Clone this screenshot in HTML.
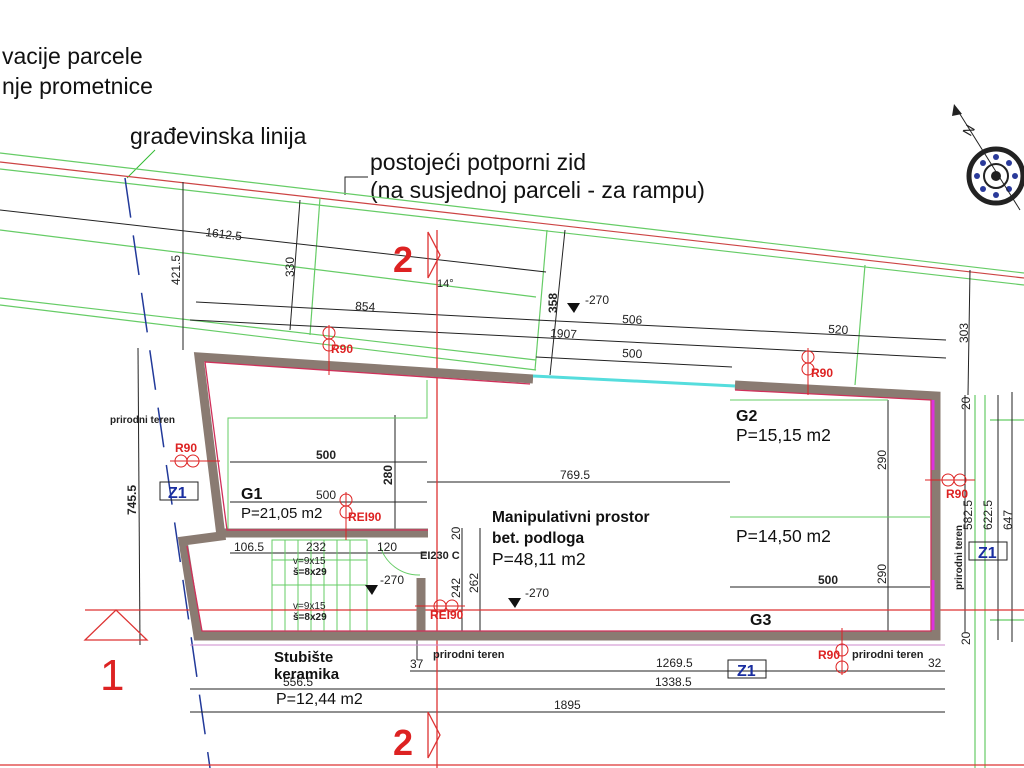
<!DOCTYPE html>
<html><head><meta charset="utf-8"><style>
html,body{margin:0;padding:0;background:#fff;width:1024px;height:768px;overflow:hidden}
svg text{font-family:"Liberation Sans",sans-serif}
</style></head><body>
<svg width="1024" height="768" viewBox="0 0 1024 768" xmlns="http://www.w3.org/2000/svg">
<rect width="1024" height="768" fill="#fff"/>
<!-- top texts -->
<text x="2" y="64" font-size="23" fill="#111">vacije parcele</text>
<text x="2" y="94" font-size="23" fill="#111">nje prometnice</text>
<text x="130" y="144" font-size="23" fill="#111">građevinska linija</text>
<text x="370" y="170" font-size="23" fill="#111">postojeći potporni zid</text>
<text x="370" y="198" font-size="23" fill="#111">(na susjednoj parceli - za rampu)</text>
<polyline points="345,195 345,177 368,177" fill="none" stroke="#222" stroke-width="1"/>
<line x1="155" y1="150" x2="127" y2="178" stroke="#3b3" stroke-width="1"/>

<!-- diagonal lines -->
<g fill="none" stroke-width="1.2">
<line x1="0" y1="153" x2="1024" y2="273" stroke="#6c6"/>
<line x1="0" y1="162" x2="1024" y2="278" stroke="#c44"/>
<line x1="0" y1="169" x2="1024" y2="285" stroke="#6c6"/>
<line x1="0" y1="230" x2="536" y2="297" stroke="#6c6"/>
<line x1="0" y1="298" x2="536" y2="360" stroke="#6c6"/>
<line x1="0" y1="305" x2="536" y2="370" stroke="#6c6"/>
<line x1="320" y1="198" x2="310" y2="335" stroke="#6c6"/>
<line x1="547" y1="230" x2="535" y2="370" stroke="#6c6"/>
<line x1="865" y1="265" x2="855" y2="385" stroke="#6c6"/>
<line x1="975" y1="395" x2="975" y2="768" stroke="#6c6"/>
<line x1="985" y1="395" x2="985" y2="768" stroke="#6c6"/>
<line x1="990" y1="420" x2="1024" y2="420" stroke="#6c6"/>
<line x1="990" y1="620" x2="1024" y2="620" stroke="#6c6"/>
</g>
<!-- blue dashed -->
<g stroke="#223a9a" stroke-width="1.5" stroke-dasharray="40,18">
<line x1="125" y1="178" x2="210" y2="768"/>
</g>
<!-- dimension lines -->
<g stroke="#222" stroke-width="1" fill="none">
<line x1="0" y1="210" x2="546" y2="272"/>
<line x1="196" y1="302" x2="536" y2="320"/>
<line x1="190" y1="320" x2="946" y2="358"/>
<line x1="536" y1="320" x2="946" y2="340"/>
<line x1="536" y1="357" x2="732" y2="367"/>
<line x1="183" y1="182" x2="183" y2="350"/>
<line x1="300" y1="200" x2="290" y2="330"/>
<line x1="565" y1="230" x2="550" y2="375"/>
<line x1="970" y1="270" x2="968" y2="395"/>
<line x1="138" y1="348" x2="140" y2="645"/>
<line x1="230" y1="462" x2="427" y2="462"/>
<line x1="230" y1="502" x2="427" y2="502"/>
<line x1="427" y1="482" x2="730" y2="482"/>
<line x1="395" y1="415" x2="395" y2="530"/>
<line x1="230" y1="553" x2="427" y2="553"/>
<line x1="462" y1="528" x2="462" y2="632"/>
<line x1="480" y1="528" x2="480" y2="632"/>
<line x1="730" y1="587" x2="930" y2="587"/>
<line x1="888" y1="400" x2="888" y2="632"/>
<line x1="410" y1="671" x2="945" y2="671"/>
<line x1="190" y1="689" x2="945" y2="689"/>
<line x1="190" y1="712" x2="945" y2="712"/>
<line x1="965" y1="395" x2="965" y2="632"/>
<line x1="998" y1="395" x2="998" y2="640"/>
<line x1="1012" y1="392" x2="1012" y2="642"/>
<line x1="417" y1="580" x2="417" y2="660"/>
</g>
<!-- green interior -->
<g stroke="#6c6" stroke-width="1" fill="none">
<polyline points="228,530 228,418 427,418 427,380"/>
<line x1="730" y1="400" x2="888" y2="400"/>
<line x1="730" y1="517" x2="930" y2="517"/>
<rect x="272" y="540" width="95" height="92"/>
<line x1="272" y1="560" x2="367" y2="560"/>
<line x1="272" y1="585" x2="367" y2="585"/>
<line x1="285" y1="540" x2="285" y2="632"/><line x1="298" y1="540" x2="298" y2="632"/><line x1="311" y1="540" x2="311" y2="632"/><line x1="324" y1="540" x2="324" y2="632"/><line x1="337" y1="540" x2="337" y2="632"/><line x1="350" y1="540" x2="350" y2="632"/>
<path d="M380 545 A40 40 0 0 0 420 575"/>
</g>
<!-- red lines -->
<g stroke="#d33" stroke-width="1.3" fill="none">
<line x1="85" y1="610" x2="1024" y2="610"/>
<line x1="437" y1="230" x2="437" y2="768"/>
<line x1="0" y1="765" x2="1024" y2="765"/>
<polygon points="85,640 116,610 147,640"/>
<polygon points="428,232 440,255 428,278"/>
<polygon points="428,712 440,735 428,758"/>
</g>
<!-- walls -->
<g fill="none" stroke="#8a7b72" stroke-width="9" stroke-linejoin="miter">
<polyline points="533,379 199,357 221,536 183,541 198,636 936,636 936,470"/>
<polyline points="936,580 936,396 735,385"/>
<line x1="221" y1="533" x2="428" y2="533"/>
<line x1="421" y1="578" x2="421" y2="636"/>
</g>
<g fill="none" stroke="#d0305a" stroke-width="1.3">
<polyline points="530,384 205,362 227,530 428,530"/>
<polyline points="187,546 202,631 931,631 931,400 735,390"/>
</g>
<line x1="533" y1="376" x2="735" y2="386" stroke="#5dd" stroke-width="3"/>
<line x1="933" y1="400" x2="933" y2="470" stroke="#d3d" stroke-width="3"/>
<line x1="933" y1="580" x2="933" y2="630" stroke="#d3d" stroke-width="3"/>
<line x1="190" y1="645" x2="945" y2="645" stroke="#c8c" stroke-width="1"/>

<!-- labels -->
<g fill="#222" font-size="12">
<text x="205" y="236" transform="rotate(7 205 236)">1612.5</text>
<text x="355" y="310" transform="rotate(3 355 310)">854</text>
<text x="550" y="337" transform="rotate(3 550 337)">1907</text>
<text x="622" y="323" transform="rotate(3 622 323)">506</text>
<text x="828" y="333" transform="rotate(3 828 333)">520</text>
<text x="622" y="357" transform="rotate(3 622 357)">500</text>
<text x="437" y="287" font-size="11">14°</text>
<text x="585" y="304">-270</text>
<text transform="translate(180 285) rotate(-90)">421.5</text>
<text transform="translate(294 277) rotate(-90)">330</text>
<text transform="translate(557 313) rotate(-90)" font-weight="bold">358</text>
<text transform="translate(968 343) rotate(-90)">303</text>
<text transform="translate(136 515) rotate(-90)" font-weight="bold">745.5</text>
<text x="316" y="459" font-weight="bold">500</text>
<text x="316" y="499">500</text>
<text transform="translate(392 485) rotate(-90)" font-weight="bold">280</text>
<text x="560" y="479">769.5</text>
<text x="234" y="551">106.5</text>
<text x="306" y="551">232</text>
<text x="377" y="551">120</text>
<text x="380" y="584">-270</text>
<text x="525" y="597">-270</text>
<text transform="translate(460 598) rotate(-90)">242</text>
<text transform="translate(478 593) rotate(-90)">262</text>
<text transform="translate(460 540) rotate(-90)">20</text>
<text x="818" y="584" font-weight="bold">500</text>
<text transform="translate(886 470) rotate(-90)">290</text>
<text transform="translate(886 584) rotate(-90)">290</text>
<text transform="translate(970 410) rotate(-90)">20</text>
<text transform="translate(970 645) rotate(-90)">20</text>
<text transform="translate(972 530) rotate(-90)">582.5</text>
<text transform="translate(992 530) rotate(-90)">622.5</text>
<text transform="translate(1012 530) rotate(-90)">647</text>
<text x="410" y="668">37</text>
<text x="656" y="667">1269.5</text>
<text x="283" y="686">556.5</text>
<text x="655" y="686">1338.5</text>
<text x="554" y="709">1895</text>
<text x="928" y="667">32</text>
<text x="293" y="564" font-size="10">v=9x15</text>
<text x="293" y="575" font-size="10" font-weight="bold">š=8x29</text>
<text x="293" y="609" font-size="10">v=9x15</text>
<text x="293" y="620" font-size="10" font-weight="bold">š=8x29</text>
<text x="420" y="559" font-size="11" font-weight="bold">EI230 C</text>
<text x="110" y="423" font-size="10" font-weight="bold">prirodni teren</text>
<text x="433" y="658" font-size="11" font-weight="bold">prirodni teren</text>
<text x="852" y="658" font-size="11" font-weight="bold">prirodni teren</text>
<text transform="translate(962 590) rotate(-90)" font-size="10" font-weight="bold">prirodni teren</text>
</g>
<g fill="#d22" font-size="12" font-weight="bold">
<text x="331" y="353">R90</text>
<text x="811" y="377">R90</text>
<text x="175" y="452">R90</text>
<text x="348" y="521">REI90</text>
<text x="430" y="619">REI90</text>
<text x="946" y="498">R90</text>
<text x="818" y="659">R90</text>
<text x="393" y="272" font-size="36">2</text>
<text x="393" y="755" font-size="36">2</text>
<text x="100" y="690" font-size="44" font-weight="normal">1</text>
</g>
<g stroke="#d22" stroke-width="1" fill="none">
<circle cx="329" cy="333" r="6"/><circle cx="329" cy="345" r="6"/><line x1="329" y1="325" x2="329" y2="375"/>
<circle cx="808" cy="357" r="6"/><circle cx="808" cy="369" r="6"/><line x1="808" y1="348" x2="808" y2="395"/>
<circle cx="181" cy="461" r="6"/><circle cx="193" cy="461" r="6"/><line x1="170" y1="461" x2="220" y2="461"/>
<circle cx="346" cy="500" r="6"/><circle cx="346" cy="512" r="6"/><line x1="346" y1="492" x2="346" y2="540"/>
<circle cx="440" cy="606" r="6"/><circle cx="452" cy="606" r="6"/><line x1="415" y1="606" x2="465" y2="606"/>
<circle cx="948" cy="480" r="6"/><circle cx="960" cy="480" r="6"/><line x1="925" y1="480" x2="975" y2="480"/>
<circle cx="842" cy="650" r="6"/><circle cx="842" cy="667" r="6"/><line x1="842" y1="628" x2="842" y2="675"/>
</g>
<!-- room labels -->
<g fill="#111">
<text x="241" y="499" font-size="16" font-weight="bold">G1</text>
<text x="241" y="518" font-size="15">P=21,05 m2</text>
<text x="736" y="421" font-size="16" font-weight="bold">G2</text>
<text x="736" y="441" font-size="17.5">P=15,15 m2</text>
<text x="736" y="542" font-size="17.5">P=14,50 m2</text>
<text x="750" y="625" font-size="16" font-weight="bold">G3</text>
<text x="492" y="522" font-size="15.5" font-weight="bold">Manipulativni prostor</text>
<text x="492" y="543" font-size="15.5" font-weight="bold">bet. podloga</text>
<text x="492" y="565" font-size="17.5">P=48,11 m2</text>
<text x="274" y="662" font-size="15" font-weight="bold">Stubište</text>
<text x="274" y="679" font-size="15" font-weight="bold">keramika</text>
<text x="276" y="704" font-size="16">P=12,44 m2</text>
</g>
<!-- Z1 boxes -->
<g font-size="16" font-weight="bold" fill="#1a2ea0">
<rect x="160" y="482" width="38" height="18" fill="none" stroke="#222"/><text x="168" y="498">Z1</text>
<rect x="728" y="660" width="38" height="18" fill="none" stroke="#222"/><text x="737" y="676">Z1</text>
<rect x="969" y="542" width="38" height="18" fill="none" stroke="#222"/><text x="978" y="558">Z1</text>
</g>
<!-- level marks -->
<g fill="#111"><polygon points="567,303 580,303 574,313"/><polygon points="365,585 378,585 372,595"/><polygon points="508,598 521,598 515,608"/></g>
<!-- compass -->
<g transform="translate(996 176)">
<circle r="27" fill="none" stroke="#222" stroke-width="5"/>
<circle r="12" fill="none" stroke="#222" stroke-width="2"/>
<circle r="5" fill="#222"/>
<g fill="#2a3a9a"><circle cx="0" cy="-19" r="3"/><circle cx="13" cy="-13" r="3"/><circle cx="19" cy="0" r="3"/><circle cx="13" cy="13" r="3"/><circle cx="0" cy="19" r="3"/><circle cx="-13" cy="13" r="3"/><circle cx="-19" cy="0" r="3"/><circle cx="-13" cy="-13" r="3"/></g>
<line x1="-38" y1="-65" x2="24" y2="34" stroke="#222"/>
<polygon points="-42,-72 -34,-62 -44,-60" fill="#222"/>
<text x="-32" y="-40" font-size="14" fill="#222" transform="rotate(-60 -28 -45)">N</text>
</g>
</svg>
</body></html>
